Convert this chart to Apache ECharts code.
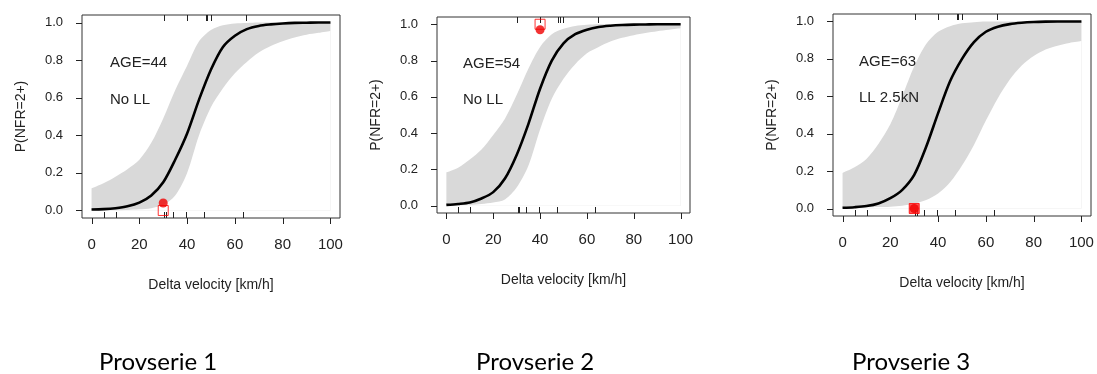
<!DOCTYPE html>
<html>
<head>
<meta charset="utf-8">
<script src="https://cdn.jsdelivr.net/npm/echarts@6/dist/echarts.min.js"></script>
<style>
  html, body { margin: 0; padding: 0; background: #fff; }
  #chart { width: 1097px; height: 374px; }
</style>
</head>
<body>
<div id="chart"></div>
<script>
// delta velocity grid the curves were read at (km/h)
const velocity = [0, 5, 10, 15, 20, 25, 30, 35, 40, 45, 50, 55, 60, 65, 70, 75, 80, 85, 90, 95, 100];

// Provserie 1: AGE=44, No LL
const mean1  = [0.005, 0.007, 0.012, 0.022, 0.042, 0.08, 0.15, 0.27, 0.41, 0.59, 0.75, 0.87, 0.93, 0.965, 0.982, 0.99, 0.995, 0.998, 0.999, 1.0, 1.0];
const upper1 = [0.118, 0.145, 0.18, 0.22, 0.27, 0.36, 0.49, 0.64, 0.77, 0.9, 0.96, 0.985, 0.995, 0.998, 1.0, 1.0, 1.0, 1.0, 1.0, 1.0, 1.0];
const lower1 = [0.0, 0.0, 0.001, 0.003, 0.006, 0.012, 0.03, 0.08, 0.2, 0.4, 0.55, 0.65, 0.73, 0.79, 0.84, 0.875, 0.9, 0.92, 0.935, 0.945, 0.955];

// Provserie 2: AGE=54, No LL
const mean2  = [0.005, 0.01, 0.018, 0.04, 0.075, 0.15, 0.28, 0.45, 0.645, 0.8, 0.895, 0.945, 0.97, 0.985, 0.992, 0.996, 0.998, 0.999, 1.0, 1.0, 1.0];
const upper2 = [0.184, 0.21, 0.255, 0.31, 0.39, 0.48, 0.61, 0.755, 0.875, 0.945, 0.975, 0.99, 0.997, 1.0, 1.0, 1.0, 1.0, 1.0, 1.0, 1.0, 1.0];
const lower2 = [0.0, 0.002, 0.005, 0.01, 0.018, 0.035, 0.1, 0.22, 0.42, 0.59, 0.7, 0.78, 0.84, 0.875, 0.905, 0.925, 0.94, 0.952, 0.962, 0.97, 0.978];

// Provserie 3: AGE=63, LL 2.5kN
const mean3  = [0.004, 0.007, 0.013, 0.027, 0.055, 0.1, 0.18, 0.33, 0.51, 0.68, 0.8, 0.89, 0.945, 0.972, 0.986, 0.993, 0.997, 0.999, 1.0, 1.0, 1.0];
const upper3 = [0.19, 0.22, 0.265, 0.345, 0.45, 0.6, 0.76, 0.88, 0.945, 0.975, 0.99, 0.996, 1.0, 1.0, 1.0, 1.0, 1.0, 1.0, 1.0, 1.0, 1.0];
const lower3 = [0.003, 0.004, 0.006, 0.008, 0.01, 0.015, 0.025, 0.045, 0.08, 0.14, 0.23, 0.34, 0.47, 0.59, 0.69, 0.765, 0.815, 0.85, 0.87, 0.885, 0.895];

// rug: observed velocities without (bottom) and with (top) NFR 2+
const rugBottom = [5, 10.3, 30.5, 31, 34, 39.4, 47.1, 63.3];
const rugTop = [30.3, 40, 47.8, 48.4, 49.9, 64.6];

// red markers: test result (square) and model point (dot)
const testSquare = [[30, 0.0], [40, 1.0], [30, 0.0]];
const testDot = [[30, 0.04], [40, 0.97], [30, 0.0]];

const xTicks = [0, 20, 40, 60, 80, 100];
const yTicks = [0, 0.2, 0.4, 0.6, 0.8, 1.0];
const ageLabels = ['AGE=44', 'AGE=54', 'AGE=63'];
const llLabels = ['No LL', 'No LL', 'LL 2.5kN'];
const panelTitles = ['Provserie 1', 'Provserie 2', 'Provserie 3'];

const means = [mean1, mean2, mean3];
const uppers = [upper1, upper2, upper3];
const lowers = [lower1, lower2, lower3];

const grids = [
  { left: 82, top: 15, width: 258, height: 203 },
  { left: 437, top: 17, width: 253, height: 196 },
  { left: 833, top: 14, width: 258, height: 202 }
];
const annotPos = [[110, 63, 100], [463, 64, 100], [859, 62, 98]];
const titleX = [99, 476, 852];

const FONT = '"Liberation Sans", Arial, sans-serif';
const INK = '#222';
const pairs = (ys) => velocity.map((v, k) => [v, ys[k]]);

// short vertical/horizontal strokes on the frame edge (rug marks and R-style outer ticks)
function edgeMarks(i, values, edge, len) {
  return {
    type: 'custom',
    xAxisIndex: i, yAxisIndex: i,
    data: values.map(v => (edge === 'left' ? [50, v] : [v, 0.5])),
    encode: { x: 0, y: 1 },
    silent: true, clip: false, z: 6,
    renderItem(params, api) {
      const cs = params.coordSys;
      const p = api.coord([api.value(0), api.value(1)]);
      let shape;
      if (edge === 'left') {
        const y = Math.round(p[1]) + 0.5;
        shape = { x1: cs.x, y1: y, x2: cs.x + len, y2: y };
      } else {
        const x = Math.round(p[0]) + 0.5;
        const y1 = edge === 'top' ? cs.y : cs.y + cs.height;
        shape = { x1: x, y1: y1, x2: x, y2: y1 + len };
      }
      return { type: 'line', shape: shape, style: { stroke: INK, lineWidth: 1 } };
    }
  };
}

const xAxes = [], yAxes = [], series = [], graphics = [];

grids.forEach((g, i) => {
  xAxes.push({
    gridIndex: i, type: 'value', min: -4, max: 104,
    axisLine: { show: false, onZero: false },
    axisTick: { show: false },
    axisLabel: { customValues: xTicks, fontSize: 15, fontFamily: FONT, color: INK, margin: 19 },
    splitLine: { show: false },
    name: 'Delta velocity [km/h]', nameLocation: 'middle', nameGap: 60,
    nameTextStyle: { fontSize: 14, fontFamily: FONT, color: INK }
  });
  yAxes.push({
    gridIndex: i, type: 'value', min: -0.04, max: 1.04,
    axisLine: { show: false, onZero: false },
    axisTick: { show: false },
    axisLabel: { customValues: yTicks, fontSize: 13, fontFamily: FONT, color: INK, margin: 19,
      formatter: v => v.toFixed(1) },
    splitLine: { show: false },
    name: 'P(NFR=2+)', nameLocation: 'middle', nameGap: 54,
    nameTextStyle: { fontSize: 14, fontFamily: FONT, color: INK }
  });

  // confidence band: grey upper area, then white lower area on top of it
  series.push({
    type: 'line', xAxisIndex: i, yAxisIndex: i, data: pairs(uppers[i]),
    smooth: 0.3, showSymbol: false, silent: true,
    lineStyle: { width: 0 }, areaStyle: { color: '#d9d9d9', opacity: 1 }, z: 1
  });
  series.push({
    type: 'line', xAxisIndex: i, yAxisIndex: i, data: pairs(lowers[i]),
    smooth: 0.3, showSymbol: false, silent: true,
    lineStyle: { width: 0 }, areaStyle: { color: '#ffffff', opacity: 1 }, z: 2
  });
  series.push({
    type: 'line', xAxisIndex: i, yAxisIndex: i, data: pairs(means[i]),
    smooth: 0.3, showSymbol: false, silent: true,
    lineStyle: { width: 2.6, color: '#000' }, z: 4
  });
  series.push(edgeMarks(i, rugBottom, 'bottom', -6));
  series.push(edgeMarks(i, rugTop, 'top', 6));
  series.push(edgeMarks(i, xTicks, 'bottom', 6));
  series.push(edgeMarks(i, yTicks, 'left', -6));
  series.push({
    type: 'scatter', xAxisIndex: i, yAxisIndex: i, data: [testSquare[i]],
    symbol: 'rect', symbolSize: 10, silent: true, z: 7,
    itemStyle: i === 2
      ? { color: '#ff2a2a', borderColor: '#ff0000', borderWidth: 1 }
      : { color: 'rgba(255,255,255,0)', borderColor: '#ff0000', borderWidth: 1 }
  });
  series.push({
    type: 'scatter', xAxisIndex: i, yAxisIndex: i, data: [testDot[i]],
    symbol: 'circle', symbolSize: 9, silent: true, z: 8,
    itemStyle: { color: '#f00000' }
  });

  const [ax, ay1, ay2] = annotPos[i];
  graphics.push({ type: 'text', x: ax, y: ay1, z: 10,
    style: { text: ageLabels[i], fontSize: 15, fontFamily: FONT, fill: INK, verticalAlign: 'middle' } });
  graphics.push({ type: 'text', x: ax, y: ay2, z: 10,
    style: { text: llLabels[i], fontSize: 15, fontFamily: FONT, fill: INK, verticalAlign: 'middle' } });
  graphics.push({ type: 'text', x: titleX[i], y: 362, z: 10,
    style: { text: panelTitles[i], fontSize: 24, fontFamily: 'Lato, "Open Sans", sans-serif', fill: '#000', verticalAlign: 'middle' } });
});

const chart = echarts.init(document.getElementById('chart'), null, { renderer: 'canvas' });
chart.setOption({
  animation: false,
  backgroundColor: '#ffffff',
  grid: grids.map(g => Object.assign({ show: true, borderColor: '#333', borderWidth: 1, backgroundColor: 'transparent' }, g)),
  xAxis: xAxes,
  yAxis: yAxes,
  series: series,
  graphic: graphics
});
</script>
</body>
</html>
